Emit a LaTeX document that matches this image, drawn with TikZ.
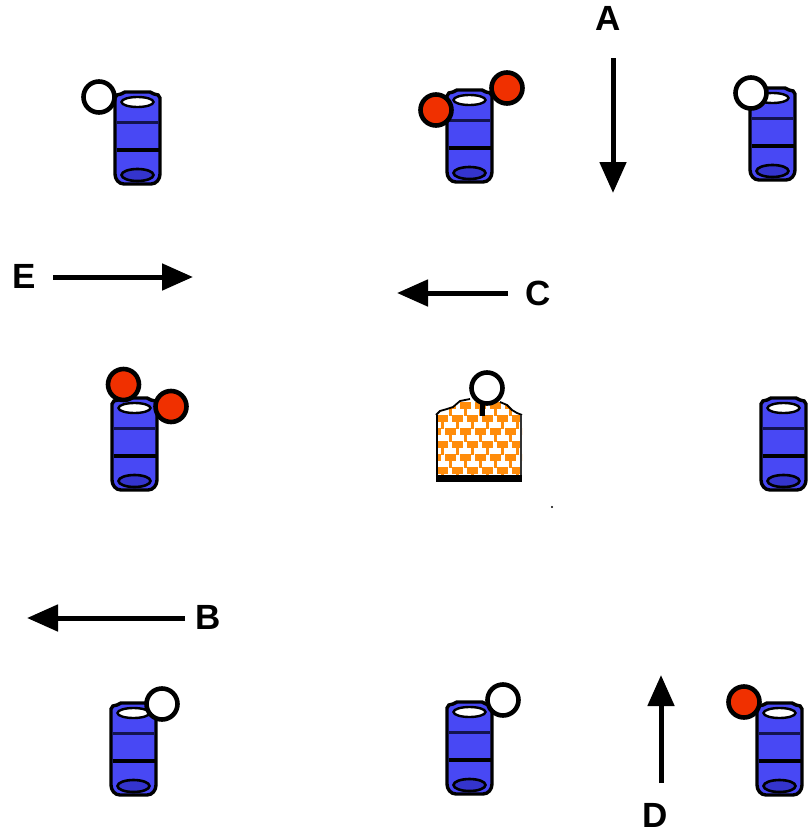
\documentclass[tikz,border=0pt]{standalone}
\usepackage{fontspec}
\setmainfont{Liberation Sans}
\usetikzlibrary{arrows.meta}
\definecolor{tubeblue}{RGB}{72,72,244}
\definecolor{tubedark}{RGB}{52,52,205}
\definecolor{tubeline}{RGB}{20,20,80}
\definecolor{ballred}{RGB}{240,48,0}
\definecolor{boxorange}{RGB}{255,140,10}
\tikzset{
  tube/.pic={
    \draw[line width=3.4pt, fill=tubeblue]
      (0,6) -- (0,82) to[out=-90,in=180] (9,92) -- (36,92) to[out=0,in=-90] (45,82)
      -- (45,6) to[out=90,in=0] (39,2) -- (35,0) -- (10,0) -- (6,2) to[out=180,in=90] (0,6) -- cycle;
    \draw[line width=2.4pt, fill=white] (22.5,10) ellipse (16 and 5);
    \draw[line width=3pt, tubeline] (2,30) -- (43,30);
    \draw[line width=4pt] (1.5,58) -- (43.5,58);
    \draw[line width=2.6pt, fill=tubedark] (22.5,83) ellipse (16 and 6);
  },
  wball/.style={circle, draw=black, line width=4.6pt, fill=white, minimum size=31pt, inner sep=0pt},
  rball/.style={wball, fill=ballred},
  lab/.style={font=\bfseries\fontsize{35}{35}\selectfont, inner sep=0pt, anchor=center},
  bigarrow/.style={line width=5pt, -{Triangle[length=31pt,width=26pt]}}
}
\begin{document}
\begin{tikzpicture}[x=1pt,y=-1pt]
\useasboundingbox (0,0) rectangle (809,835);
% tubes
\pic (t1) at (115,92) {tube};
\pic (t2) at (447,90) {tube};
\pic (t3) at (750,88) {tube};
\pic (t4) at (112,398) {tube};
\pic (t5) at (761,398) {tube};
\pic (t6) at (111,703) {tube};
\pic (t7) at (447,702) {tube};
\pic (t8) at (757,703) {tube};
% balls
\node[wball] (b1) at (99,97) {};
\node[rball] (b2) at (436,110) {};
\node[rball] (b3) at (507,88) {};
\node[wball] (b4) at (751,93) {};
\node[rball] (b5) at (123.5,384.5) {};
\node[rball] (b6) at (171,406.5) {};
\node[wball] (b7) at (162,704) {};
\node[wball] (b8) at (503,700) {};
\node[rball] (b9) at (744,702) {};
% orange box
\begin{scope}
  \path[clip] (436,482) -- (436,415) -- (440,411) -- (447,409) -- (453,407) -- (460,401)
    -- (470,399) -- (500,402) -- (507,405) -- (512,410) -- (517,413) -- (522,415) -- (522,482) -- cycle;
  \fill[white] (430,395) rectangle (530,485);
  \foreach \j in {0,...,5}{
    \foreach \i in {0,...,6}{
      \pgfmathsetmacro\xx{430+\i*15+mod(\j,2)*7}
      \fill[boxorange] (\xx,402+\j*13) rectangle ++(11,7);
      \fill[boxorange] (\xx+4,409+\j*13) rectangle ++(3,7);
    }
  }
\end{scope}
\draw[line width=1.8pt] (436,415) -- (440,411) -- (447,409) -- (453,407) -- (460,401)
    -- (470,399);
\draw[line width=1.8pt] (500,402) -- (507,405) -- (512,410) -- (517,413) -- (522,415);
\draw[line width=2.4pt] (437,415) -- (437,480);
\draw[line width=2.4pt, black!80] (521,415) -- (521,480);
\fill (436,475) rectangle (522,482);
\draw[line width=5pt] (482.5,404) -- (482.5,416);
\node[wball] (b10) at (487,388) {};
\fill (552,507) circle (1.2);
% arrows
\coordinate (aS) at (613,58); \coordinate (aE) at (613,193);
\coordinate (eS) at (53,277); \coordinate (eE) at (193,277);
\coordinate (cS) at (508,293); \coordinate (cE) at (397,293);
\coordinate (bS) at (185,618); \coordinate (bE) at (27,618);
\coordinate (dS) at (661,783); \coordinate (dE) at (661,675);
\draw[bigarrow] (aS) -- (aE);
\draw[bigarrow] (eS) -- (eE);
\draw[bigarrow] (cS) -- (cE);
\draw[bigarrow] (bS) -- (bE);
\draw[bigarrow] (dS) -- (dE);
% labels
\node[lab] (lA) at (608,18.5) {A};
\node[lab] (lE) at (24,276) {E};
\node[lab] (lC) at (538,293) {C};
\node[lab] (lB) at (208,617) {B};
\node[lab] (lD) at (655,815.5) {D};
\end{tikzpicture}
\end{document}
